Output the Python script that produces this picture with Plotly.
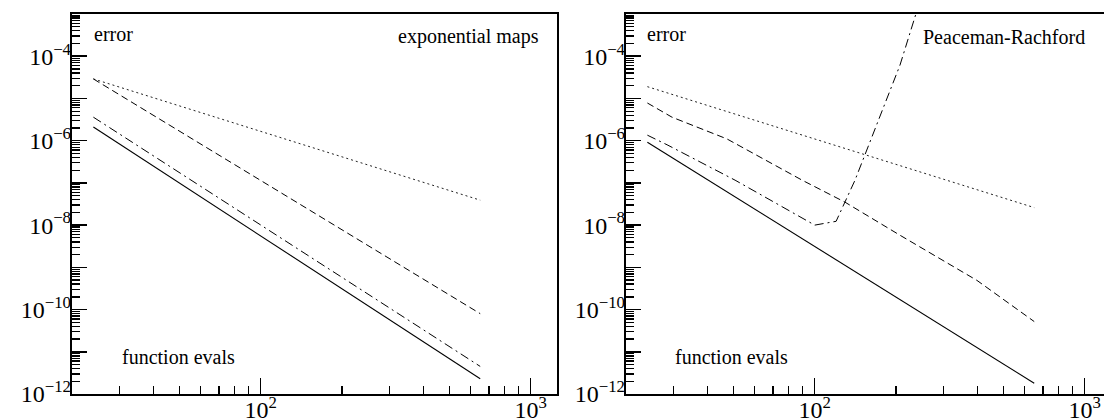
import math
import plotly.graph_objects as go

# ---------------- data ----------------
# left panel: exponential maps
left_x = [24, 650]
left_dotted = [2.9e-5, 3.9e-8]
left_dashed = [2.9e-5, 8.0e-11]
left_dashdot = [3.6e-6, 4.5e-12]
left_solid = [2.1e-6, 2.3e-12]

# right panel: Peaceman-Rachford
right_x = [24, 650]
right_dotted = [1.9e-5, 2.6e-8]
right_solid = [9.2e-7, 1.8e-12]
right_dashed_x = [24, 29.6, 47.3, 89.8, 129.4, 207, 399, 650]
right_dashed_y = [7.8e-6, 3.6e-6, 1.1e-6, 1.16e-7, 3.5e-8, 5.75e-9, 4.9e-10, 5.2e-11]
right_dashdot_x = [24, 28.6, 50.7, 100, 120, 129.4, 141, 207, 237, 256]
right_dashdot_y = [1.35e-6, 7.8e-7, 1.16e-7, 1.0e-8, 1.23e-8, 3.5e-8, 1.16e-7, 6.2e-5, 1e-3, 4.9e-3]

panel_titles = ["exponential maps", "Peaceman-Rachford"]
y_label = "error"
x_label = "function evals"

y_exponents = list(range(-12, -2))
x_major = [100, 1000]
x_major_text = ["10<sup>2</sup>", "10<sup>3</sup>"]

# ---------------- figure ----------------
W, H = 1104, 420
ML, MR, MT, MB = 72, 0, 14, 26
plotw = W - ML - MR
font_family = "Liberation Serif, Times New Roman, serif"

fig = go.Figure()

styles = {
    "dotted": dict(color="#222", width=1, dash="2px,3px"),
    "dashed": dict(color="black", width=1, dash="7px,4px"),
    "dashdot": dict(color="black", width=1, dash="9px,4px,2px,4px"),
    "solid": dict(color="black", width=1.1),
}

for xs, ys, st in [
    (left_x, left_dotted, "dotted"),
    (left_x, left_dashed, "dashed"),
    (left_x, left_dashdot, "dashdot"),
    (left_x, left_solid, "solid"),
]:
    fig.add_trace(go.Scatter(x=xs, y=ys, mode="lines", line=styles[st],
                             xaxis="x", yaxis="y",
                             showlegend=False, hoverinfo="skip"))

for xs, ys, st in [
    (right_x, right_dotted, "dotted"),
    (right_dashed_x, right_dashed_y, "dashed"),
    (right_dashdot_x, right_dashdot_y, "dashdot"),
    (right_x, right_solid, "solid"),
]:
    fig.add_trace(go.Scatter(x=xs, y=ys, mode="lines", line=styles[st],
                             xaxis="x2", yaxis="y2",
                             showlegend=False, hoverinfo="skip"))

# empty traces so that the label-only overlay axes are drawn
fig.add_trace(go.Scatter(x=[None], y=[None], mode="lines", xaxis="x", yaxis="y3",
                         showlegend=False, hoverinfo="skip"))
fig.add_trace(go.Scatter(x=[None], y=[None], mode="lines", xaxis="x2", yaxis="y4",
                         showlegend=False, hoverinfo="skip"))

left_px = (72, 557)
right_px = (626, 1104)
dom_left = [(left_px[0] - ML) / plotw, (left_px[1] - ML) / plotw]
dom_right = [(right_px[0] - ML) / plotw, 1.0]
px_per_decade = 270.0
x0 = math.log10(20)
left_range = [x0, x0 + (left_px[1] - left_px[0]) / px_per_decade]
right_range = [x0, x0 + (right_px[1] - right_px[0]) / px_per_decade]

y_all = [10.0 ** e for e in y_exponents]
y_even = [10.0 ** e for e in y_exponents if e % 2 == 0]
y_even_text = ["10<sup>\u2212%d</sup>" % (-e) for e in y_exponents if e % 2 == 0]
y_minor = [m * 10.0 ** e for e in range(-12, -3) for m in range(2, 10)]
x_minor = [m * 10.0 ** e for e in range(1, 4) for m in range(2, 10)]

tickfont = dict(family=font_family, size=24, color="black")


def xaxis_cfg(domain, rng, anchor):
    return dict(type="log", domain=domain, range=rng, anchor=anchor,
                showgrid=False, zeroline=False, showline=True, automargin=False,
                linecolor="black", linewidth=2, mirror=True,
                ticks="inside", ticklen=16, tickwidth=1.5, tickcolor="black",
                tickmode="array", tickvals=x_major, ticktext=x_major_text,
                tickfont=tickfont, ticklabelstandoff=-7,
                minor=dict(tickmode="array", tickvals=x_minor, ticks="inside",
                           ticklen=8, tickwidth=1.3, tickcolor="black", showgrid=False))


def yaxis_cfg(anchor, mirror):
    return dict(type="log", range=[-12, -3], anchor=anchor, domain=[0, 1],
                showgrid=False, zeroline=False, showline=True, automargin=False,
                linecolor="black", linewidth=2, mirror=mirror,
                ticks="inside", ticklen=15, tickwidth=1.5, tickcolor="black",
                tickmode="array", tickvals=y_all, showticklabels=False,
                minor=dict(tickmode="array", tickvals=y_minor, ticks="inside",
                           ticklen=8, tickwidth=1.3, tickcolor="black", showgrid=False))


def ylabel_cfg(anchor, over):
    return dict(type="log", range=[-12, -3], anchor=anchor, overlaying=over,
                side="left",
                showgrid=False, zeroline=False, showline=False, automargin=False,
                ticks="inside", ticklen=15, tickwidth=1.5, tickcolor="black",
                tickmode="array", tickvals=y_even, ticktext=y_even_text,
                showticklabels=True, tickfont=tickfont)


fig.update_layout(
    xaxis=xaxis_cfg(dom_left, left_range, "y"),
    xaxis2=xaxis_cfg(dom_right, right_range, "y2"),
    yaxis=yaxis_cfg("x", True),
    yaxis2=yaxis_cfg("x2", False),
    yaxis3=ylabel_cfg("x", "y"),
    yaxis4=ylabel_cfg("x2", "y2"),
)

annfont = dict(family=font_family, size=20, color="black")
lw = left_px[1] - left_px[0]
rw = right_px[1] - right_px[0]
anns = [
    ("x domain", "y domain", (92 - 72) / lw, (394 - 34) / 380, y_label, "left"),
    ("x domain", "y domain", (120 - 72) / lw, (394 - 357) / 380, x_label, "left"),
    ("x domain", "y domain", (541 - 72) / lw, (394 - 37) / 380, panel_titles[0], "right"),
    ("x2 domain", "y2 domain", (645 - 626) / rw, (394 - 34) / 380, y_label, "left"),
    ("x2 domain", "y2 domain", (673 - 626) / rw, (394 - 357) / 380, x_label, "left"),
    ("x2 domain", "y2 domain", (921 - 626) / rw, (394 - 37) / 380, panel_titles[1], "left"),
]
for xr, yr, ax_, ay_, txt, anc in anns:
    fig.add_annotation(xref=xr, yref=yr, x=ax_, y=ay_, text=txt, showarrow=False,
                       xanchor=anc, yanchor="middle", font=annfont)

fig.update_layout(
    template="none",
    width=W, height=H,
    margin=dict(l=ML, r=MR, t=MT, b=MB, pad=0),
    paper_bgcolor="white", plot_bgcolor="white",
    font=dict(family=font_family, color="black"),
    hovermode=False,
)

fig.write_html(
    "out.html",
    config={"displayModeBar": False, "staticPlot": True},
    post_script="document.body.style.margin='0';document.body.style.padding='0';"
                "document.body.style.overflow='hidden';",
)
